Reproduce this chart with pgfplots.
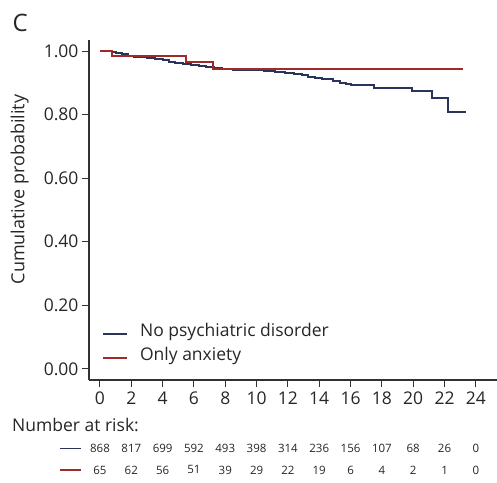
\documentclass[border=0pt]{standalone}
\usepackage{fontspec}
\setmainfont{Open Sans}
\usepackage{pgfplots}
\usepackage{pgfplotstable}
\pgfplotsset{compat=1.18}
\definecolor{kmblue}{RGB}{40,52,90}
\definecolor{kmred}{RGB}{160,42,42}
\definecolor{axgray}{RGB}{50,50,50}

\pgfplotstableread{
x y
0 1.000
0.75 0.997
1.0 0.993
1.4 0.990
1.8 0.986
2.2 0.983
2.6 0.980
3.0 0.977
3.5 0.974
4.0 0.972
4.4 0.967
4.8 0.962
5.3 0.960
5.8 0.957
6.3 0.954
6.8 0.951
7.3 0.948
7.8 0.945
8.5 0.942
9.5 0.940
10.5 0.938
11.2 0.935
11.8 0.932
12.4 0.928
12.9 0.924
13.3 0.920
13.7 0.916
14.2 0.913
14.9 0.906
15.3 0.901
15.7 0.896
16.0 0.892
17.5 0.885
19.9 0.873
21.2 0.854
22.25 0.808
23.4 0.808
}\noneTab

\pgfplotstableread{
x y
0 1.000
0.75 0.985
5.5 0.965
7.24 0.943
23.2 0.943
}\anxTab

\pgfplotstableread{
x y
0.19 0.110
1.725 0.110
}\legNone

\pgfplotstableread{
x y
0.19 0.034
1.725 0.034
}\legAnx

\pgfplotstableread{
x y label
0 -0.2516 868
2 -0.2516 817
4 -0.2516 699
6 -0.2516 592
8 -0.2516 493
10 -0.2516 398
12 -0.2516 314
14 -0.2516 236
16 -0.2516 156
18 -0.2516 107
20 -0.2516 68
22 -0.2516 26
24 -0.2516 0
}\riskNone

\pgfplotstableread{
x y label
0 -0.318 65
2 -0.318 62
4 -0.318 56
6 -0.318 51
8 -0.318 39
10 -0.318 29
12 -0.318 22
14 -0.318 19
16 -0.318 6
18 -0.318 4
20 -0.318 2
22 -0.318 1
24 -0.318 0
}\riskAnx

\begin{document}
\begin{tikzpicture}[x=1pt,y=1pt]
\path[use as bounding box] (0,0) rectangle (497,482);
\begin{axis}[
  at={(89pt,102pt)}, anchor=south west,
  scale only axis, width=408pt, height=340pt,
  xmin=-0.7, xmax=25.35, ymin=-0.035, ymax=1.035,
  clip=false,
  axis x line*=bottom, axis y line*=left,
  axis line style={-, axgray, line width=1.1pt},
  xtick={0,2,...,24},
  ytick={0,0.2,0.4,0.6,0.8,1.0},
  yticklabel style={/pgf/number format/.cd, fixed, fixed zerofill, precision=2},
  /pgf/number format/assume math mode=true,
  tick align=outside,
  major tick length=7pt,
  tick style={axgray, line width=1pt},
  ticklabel style={font=\fontsize{17.5}{20}\selectfont, text=black!85},
  xticklabel style={yshift=-1pt},
  ylabel={Cumulative probability},
  ylabel style={font=\fontsize{18}{21}\selectfont, text=black!85, at={(axis description cs:-0.17,0.56)}, anchor=center},
]
\addplot[const plot, draw=kmblue, line width=2pt] table[x=x,y=y] {\noneTab};
\addplot[const plot, draw=kmred, line width=2pt] table[x=x,y=y] {\anxTab};

% legend (drawn in axis units)
\addplot[draw=kmblue, line width=1.6pt] table[x=x,y=y] {\legNone};
\addplot[draw=kmred, line width=1.6pt] table[x=x,y=y] {\legAnx};
\node[anchor=west, inner sep=0pt, font=\fontsize{17.5}{20}\selectfont, text=black!85] at (axis cs:2.55,0.116) {No psychiatric disorder};
\node[anchor=west, inner sep=0pt, font=\fontsize{17.5}{20}\selectfont, text=black!85] at (axis cs:2.55,0.0405) {Only anxiety};

% number at risk
\addplot[draw=none, mark=none, nodes near coords, point meta=explicit symbolic,
  nodes near coords style={anchor=center, font=\fontsize{11.5}{13}\selectfont, text=black!85, inner sep=0pt}]
  table[x=x,y=y,meta=label] {\riskNone};
\addplot[draw=none, mark=none, nodes near coords, point meta=explicit symbolic,
  nodes near coords style={anchor=center, font=\fontsize{11.5}{13}\selectfont, text=black!85, inner sep=0pt}]
  table[x=x,y=y,meta=label] {\riskAnx};
\addplot[draw=kmblue, line width=0.7pt] coordinates {(-2.556,-0.2516) (-1.214,-0.2516)};
\addplot[draw=kmred, line width=1.5pt] coordinates {(-2.556,-0.318) (-1.214,-0.318)};
\end{axis}
\node[anchor=base west, font=\fontsize{24}{28}\selectfont, text=black!85] at (9,450) {C};
\node[anchor=west, font=\fontsize{17.5}{20}\selectfont, text=black!85, inner sep=0pt] at (12,57) {Number at risk:};
\end{tikzpicture}
\end{document}
